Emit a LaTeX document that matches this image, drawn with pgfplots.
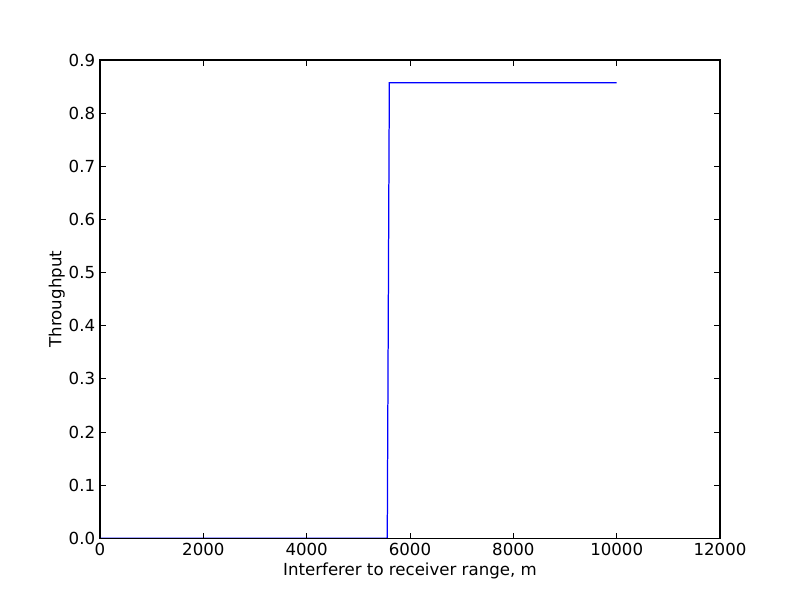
\documentclass[border=0pt]{standalone}
\usepackage{fontspec}
\setmainfont{DejaVu Sans}
\usepackage{pgfplots}
\pgfplotsset{compat=1.18}
\begin{document}
\begin{tikzpicture}
\begin{axis}[
  at={(0,0)}, anchor=south west,
  scale only axis, width=448pt, height=345.6pt,
  axis on top,
  xmin=0, xmax=12000, ymin=0, ymax=0.9,
  xtick={0,2000,4000,6000,8000,10000,12000},
  ytick={0,0.1,0.2,0.3,0.4,0.5,0.6,0.7,0.8,0.9},
  scaled x ticks=false,
  x tick label style={/pgf/number format/.cd, 1000 sep={}, fixed},
  y tick label style={/pgf/number format/.cd, fixed, fixed zerofill, precision=1},
  /pgf/number format/assume math mode=true,
  tick align=inside, major tick length=4pt,
  ticklabel style={font=\fontsize{12}{14}\selectfont},
  label style={font=\fontsize{12}{14}\selectfont},
  xlabel={Interferer to receiver range, m},
  ylabel={Throughput},
  axis line style={line width=0.8pt},
  tick style={line width=0.6pt, black},
  xlabel style={yshift=2pt},
  ylabel style={yshift=-4pt},
]
\addplot[color=blue, line width=0.9pt] coordinates {
  (0,0) (5560,0) (5600,0.857) (10000,0.857)
};
\end{axis}
\useasboundingbox (-72.25pt,-43.35pt) rectangle (505.8pt,388.95pt);
\end{tikzpicture}
\end{document}
